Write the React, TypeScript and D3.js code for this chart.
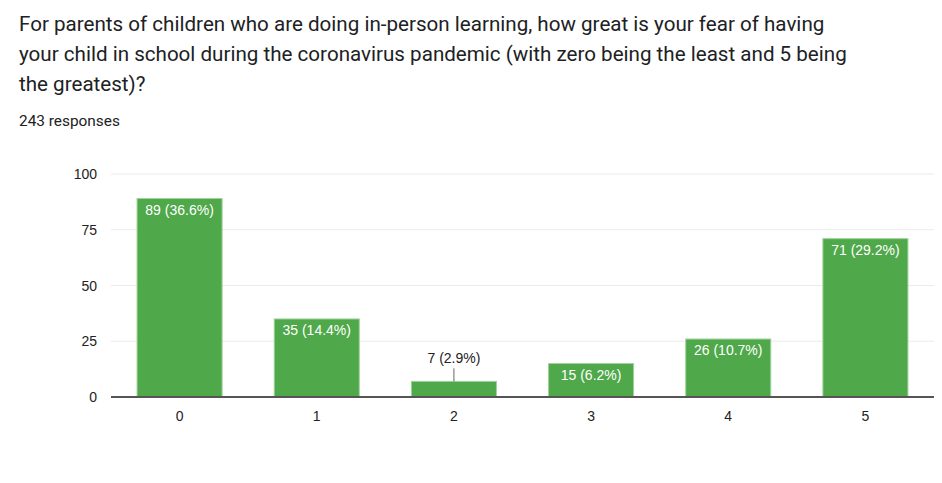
import React from "react";
import * as d3 from "d3";

const categories = ["0", "1", "2", "3", "4", "5"];
const counts = [89, 35, 7, 15, 26, 71];
const percents = ["36.6%", "14.4%", "2.9%", "6.2%", "10.7%", "29.2%"];
const yTicks = [0, 25, 50, 75, 100];
const titleLines = [
  "For parents of children who are doing in-person learning, how great is your fear of having",
  "your child in school during the coronavirus pandemic (with zero being the least and 5 being",
  "the greatest)?",
];
const responses = "243 responses";

const W = 942;
const H = 483;
const margin = { top: 174, right: 8, bottom: 86, left: 111 };

export default function App() {
  const x = d3
    .scaleBand<string>()
    .domain(categories)
    .range([margin.left, W - margin.right])
    .paddingInner(0.38)
    .paddingOuter(0.19);

  const y = d3
    .scaleLinear()
    .domain([0, 100])
    .range([H - margin.bottom, margin.top]);

  const chartFont = "'Liberation Sans', Arial, sans-serif";

  return (
    <svg
      width={W}
      height={H}
      style={{ position: "absolute", left: 0, top: 0, background: "#fff" }}
    >
      {/* title */}
      {titleLines.map((t, i) => (
        <text
          key={i}
          x={19}
          y={31 + i * 30}
          fontFamily="Roboto, sans-serif"
          fontSize={20.6}
          fill="#202124"
        >
          {t}
        </text>
      ))}
      <text x={19} y={126} fontFamily="Roboto, sans-serif" fontSize={15.4} fill="#202124">
        {responses}
      </text>

      {/* gridlines */}
      {yTicks.map((t) => (
        <line
          key={t}
          x1={margin.left}
          x2={W - margin.right}
          y1={y(t)}
          y2={y(t)}
          stroke="#ebebeb"
          strokeWidth={1}
        />
      ))}
      {yTicks.map((t) => (
        <text
          key={"l" + t}
          x={97}
          y={y(t) + 5}
          textAnchor="end"
          fontFamily={chartFont}
          fontSize={14}
          fill="#222"
        >
          {t}
        </text>
      ))}

      {/* bars */}
      {categories.map((c, i) => {
        const bx = x(c)!;
        const bw = x.bandwidth();
        const top = y(counts[i]);
        const h = y(0) - top;
        const label = `${counts[i]} (${percents[i]})`;
        const inside = h > 22;
        return (
          <g key={c}>
            <rect
              x={bx}
              y={top}
              width={bw}
              height={h}
              fill="#4fa84a"
              stroke="#9fd39b"
              strokeWidth={1}
            />
            {inside ? (
              <text
                x={bx + bw / 2}
                y={top + 16}
                textAnchor="middle"
                fontFamily={chartFont}
                fontSize={14}
                fill="#fff"
              >
                {label}
              </text>
            ) : (
              <g>
                <line
                  x1={bx + bw / 2}
                  x2={bx + bw / 2}
                  y1={top}
                  y2={top - 13}
                  stroke="#666"
                  strokeWidth={1}
                />
                <text
                  x={bx + bw / 2}
                  y={top - 18}
                  textAnchor="middle"
                  fontFamily={chartFont}
                  fontSize={14}
                  fill="#222"
                >
                  {label}
                </text>
              </g>
            )}
            <text
              x={bx + bw / 2}
              y={y(0) + 24}
              textAnchor="middle"
              fontFamily={chartFont}
              fontSize={14}
              fill="#222"
            >
              {c}
            </text>
          </g>
        );
      })}

      {/* baseline */}
      <line
        x1={margin.left}
        x2={W - margin.right}
        y1={y(0)}
        y2={y(0)}
        stroke="#555"
        strokeWidth={2}
      />
    </svg>
  );
}
